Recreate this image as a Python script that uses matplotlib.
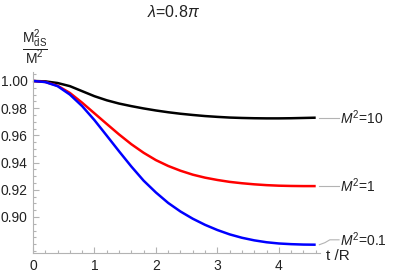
import matplotlib
matplotlib.use("Agg")
import matplotlib.pyplot as plt
from matplotlib.ticker import MultipleLocator, FormatStrFormatter

plt.rcParams['font.family'] = ['Liberation Sans', 'DejaVu Sans']
plt.rcParams['mathtext.fontset'] = 'custom'
plt.rcParams['mathtext.rm'] = 'Liberation Sans'
plt.rcParams['mathtext.it'] = 'Liberation Sans:italic'

t = [0.0, 0.2, 0.4, 0.6, 0.8, 1.0, 1.2, 1.4, 1.6, 1.8, 2.0, 2.2, 2.4, 2.6,
     2.8, 3.0, 3.2, 3.4, 3.6, 3.8, 4.0, 4.2, 4.4, 4.6]
m2_10 = [1.0, 0.9997, 0.9985, 0.9962, 0.9925, 0.9888, 0.9858, 0.9834,
         0.9815, 0.9798, 0.9783, 0.9770, 0.9759, 0.9750, 0.9742, 0.9736,
         0.9731, 0.9728, 0.9726, 0.9725, 0.9725, 0.9726, 0.9728, 0.9730]
m2_1 = [1.0, 0.9993, 0.9965, 0.9912, 0.9840, 0.9762, 0.9684, 0.9607,
        0.9535, 0.9472, 0.9418, 0.9375, 0.9340, 0.9311, 0.9289, 0.9272,
        0.9258, 0.9248, 0.9240, 0.9234, 0.9230, 0.9228, 0.9227, 0.9227]
m2_01 = [1.0, 0.9992, 0.9962, 0.9900, 0.9815, 0.9712, 0.9598, 0.9483,
         0.9371, 0.9267, 0.9180, 0.9103, 0.9040, 0.8987, 0.8942, 0.8904,
         0.8872, 0.8847, 0.8828, 0.8814, 0.8805, 0.8800, 0.8797, 0.8796]
series_labels = ["$M^2$=10", "$M^2$=1", "$M^2$=0.1"]
colors = ["black", "#ff0000", "#0000ff"]

fig = plt.figure(figsize=(4.02, 2.77), dpi=100)
ax = fig.add_axes([33/402, (277-253)/277, 287/402, 181/277])
ax.set_xlim(0, 4.67)
ax.set_ylim(0.8735, 1.0066)

for y, c in zip([m2_10, m2_1, m2_01], colors):
    ax.plot(t, y, color=c, lw=1.8, solid_capstyle='butt',
            solid_joinstyle='round', clip_on=False)

for s in ['top', 'right']:
    ax.spines[s].set_visible(False)
for s in ['left', 'bottom']:
    ax.spines[s].set_color('#b3b3b3')
    ax.spines[s].set_linewidth(0.8)

ax.xaxis.set_major_locator(MultipleLocator(1))
ax.xaxis.set_minor_locator(MultipleLocator(0.2))
ax.yaxis.set_major_locator(MultipleLocator(0.02))
ax.yaxis.set_minor_locator(MultipleLocator(0.005))
ax.yaxis.set_major_formatter(FormatStrFormatter('%.2f'))
ax.xaxis.set_major_formatter(FormatStrFormatter('%d'))
ax.tick_params(which='both', direction='in', color='#b3b3b3', width=0.8,
               labelsize=10, labelcolor='#222222')
ax.tick_params(which='major', length=4, pad=4)
ax.tick_params(which='minor', length=2.2)
ax.set_yticks([0.90, 0.92, 0.94, 0.96, 0.98, 1.00])

# right-hand labels with connector lines
ends = [m2_10[-1], m2_1[-1], m2_01[-1]]
label_y = [m2_10[-1], m2_1[-1], 0.8832]
for lab, ye, yl in zip(series_labels, ends, label_y):
    if abs(ye - yl) < 1e-6:
        ax.plot([4.66, 4.98], [ye, ye], color='#b3b3b3', lw=0.8, clip_on=False)
    else:
        ax.plot([4.66, 4.75, 4.83, 4.98], [ye, ye + 0.0015, yl, yl],
                color='#b3b3b3', lw=0.8, clip_on=False)
    ax.text(5.0, yl, lab, fontsize=10, va='center', ha='left', color='#222222')

fig.text(326/402, 1 - 256/277, "t /R", fontsize=11, va='center', ha='left',
         color='#222222')
fig.text(174/402, 1 - 12/277, r"$\lambda$=0.8$\pi$", fontsize=11.5,
         ha='center', va='center', color='#222222')
fig.text(35/402, 1 - 47/277, r"$\dfrac{\mathrm{M^2_{dS}}}{\mathrm{M^2}}$",
         fontsize=10, ha='center', va='center', color='#222222')

fig.savefig("out.png", dpi=100)
